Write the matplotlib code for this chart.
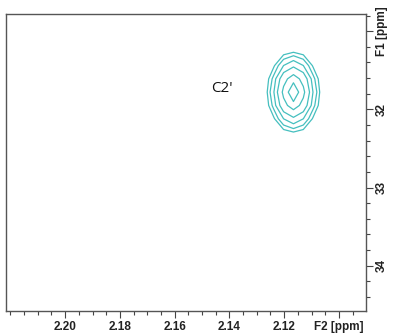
import numpy as np
import matplotlib
matplotlib.use('Agg')
import matplotlib.pyplot as plt
from matplotlib.ticker import MultipleLocator

# chemical shift window (ppm)
f2_range = (2.2216, 2.0901)
f1_range = (34.58, 30.78)

# cross peak
peak_label = "C2'"
peak_f2 = 2.1166
peak_f1 = 31.78
peak_width_f2 = 0.0092
peak_width_f1 = 0.51
label_f2 = 2.1426
label_f1 = 31.73

# contour levels, fraction of peak height
levels = [0.186, 0.261, 0.365, 0.511, 0.716, 0.88]

f2_ticks = [2.20, 2.18, 2.16, 2.14, 2.12, 2.10]
f2_ticklabels = ['2.20', '2.18', '2.16', '2.14', '2.12', 'F2 [ppm]']
f1_ticks = [31, 32, 33, 34]
f1_ticklabels = ['F1 [ppm]', '32', '33', '34']

# coarse digitisation, one point on the peak maximum
step_f2 = 0.0036
step_f1 = 0.17
f2 = peak_f2 + step_f2 * np.arange(-6, 7)
f1 = peak_f1 + step_f1 * np.arange(-6, 7)
X, Y = np.meshgrid(f2, f1)
k = 1.68
Z = np.exp(-k * (((X - peak_f2) / peak_width_f2) ** 2 + ((Y - peak_f1) / peak_width_f1) ** 2))

fig = plt.figure(figsize=(3.93, 3.34), dpi=100)
ax = fig.add_axes([6 / 393, 1 - 311 / 334, 360 / 393, 297 / 334])
ax.contour(X, Y, Z, levels=levels, colors='#45bfbf', linewidths=0.9)
ax.text(label_f2, label_f1, peak_label, fontsize=11, family='Open Sans',
        ha='center', va='center', color='#111111')

ax.set_xlim(*f2_range)
ax.set_ylim(*f1_range)

ax.set_xticks(f2_ticks)
ax.set_xticklabels(f2_ticklabels)
ax.xaxis.set_minor_locator(MultipleLocator(0.005))
ax.set_yticks(f1_ticks)
ax.set_yticklabels(f1_ticklabels, rotation=90, va='center')
ax.yaxis.set_minor_locator(MultipleLocator(0.2))
ax.yaxis.tick_right()

for lab in ax.get_xticklabels() + ax.get_yticklabels():
    lab.set_fontfamily('Liberation Sans')
    lab.set_fontweight('bold')
    lab.set_fontsize(8.5)
    lab.set_color('#222222')

ax.tick_params(which='major', direction='out', length=5, width=0.8, color='#444444', pad=2)
ax.tick_params(which='minor', direction='out', length=3, width=0.8, color='#444444')
for s in ax.spines.values():
    s.set_color('#555555')
    s.set_linewidth(1.0)

fig.savefig('out.png', dpi=100)
